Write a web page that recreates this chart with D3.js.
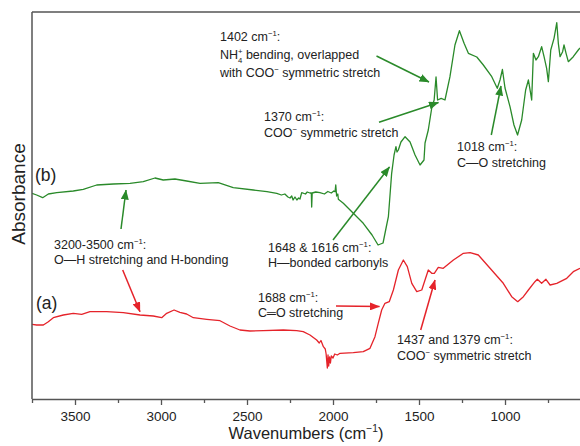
<!DOCTYPE html>
<html>
<head>
<meta charset="utf-8">
<script src="https://cdn.jsdelivr.net/npm/d3@7"></script>
<style>
  html, body { margin: 0; padding: 0; background: #fff; }
  svg { display: block; font-family: "Liberation Sans", Arial, sans-serif; }
</style>
</head>
<body>
<svg id="chart" width="580" height="446"></svg>
<script>
// FTIR spectra: wavenumber (cm^-1) and absorbance (a.u., offset per trace)
const waveB = [3750,3723,3688,3655,3606,3510,3452,3374,3277,3180,3103,3035,2987,2919,2851,2773,2667,2580,2463,2384,
  2327,2300,2280,2262,2250,2240,2232,2221,2210,2200,2192,2182,2160,2150,2134,2126,2124,2121,2100,2076,2050,2030,2010,1995,
  1988,1984,1979,1972,1969,1940,1882,1824,1773,1738,1709,1688,1678,1659,1645,1634,1628,1620,1605,1581,1552,1523,1494,1471,
  1465,1446,1426,1412,1401,1392,1371,1349,1320,1291,1265,1238,1213,1164,1126,1077,1045,1029,1015,1000,971,948,927,903,880,
  864,851,845,835,820,806,787,773,758,748,734,715,699,690,680,665,657,645,632,603,574,564];
const absB = [2.057,2.04,2.013,2.05,2.063,2.08,2.097,2.14,2.15,2.157,2.173,2.21,2.19,2.20,2.18,2.157,2.163,2.113,2.09,2.073,
  2.057,2.04,2.05,2.02,2.01,2.03,1.99,2.02,1.99,2.01,2.0,2.063,2.05,2.07,2.06,2.06,1.92,2.06,2.07,2.063,2.05,2.075,2.06,2.08,
  2.073,2.14,2.03,2.05,1.997,1.957,1.857,1.757,1.64,1.54,1.56,1.74,1.823,2.257,2.44,2.523,2.47,2.49,2.57,2.623,2.57,2.44,2.34,2.39,
  2.56,2.69,2.91,2.99,3.22,2.99,3.007,2.99,3.223,3.54,3.683,3.557,3.457,3.42,3.34,3.223,3.107,3.19,3.295,3.11,2.923,2.74,2.64,2.79,3.09,
  3.19,3.057,2.99,3.457,3.39,3.423,3.523,3.423,3.307,3.173,3.49,3.607,3.763,3.557,3.423,3.473,3.54,3.457,3.373,3.423,3.49,3.51];

const waveA = [3750,3723,3684,3655,3626,3568,3510,3461,3413,3316,3219,3122,3045,2996,2967,2924,2890,2851,2812,2734,2657,2599,
  2541,2483,2405,2289,2211,2173,2134,2095,2080,2070,2056,2045,2040,2037,2033,2029,2025,2020,2015,2010,2000,1990,1975,1959,1882,
  1824,1785,1756,1737,1717,1698,1673,1649,1620,1591,1568,1542,1513,1484,1465,1446,1426,1411,1388,1359,1300,1242,1203,1155,1087,
  1010,961,926,893,864,826,812,787,762,738,699,641,603,564];
const absA = [0.747,0.74,0.74,0.773,0.813,0.84,0.857,0.847,0.873,0.873,0.863,0.84,0.83,0.813,0.857,0.89,0.867,0.85,0.813,0.797,0.783,0.73,
  0.69,0.68,0.683,0.69,0.683,0.673,0.64,0.59,0.56,0.585,0.523,0.5,0.45,0.39,0.31,0.44,0.33,0.42,0.36,0.43,0.41,0.45,0.44,0.457,0.463,
  0.473,0.507,0.623,0.757,0.89,0.957,0.973,1.09,1.29,1.39,1.323,1.157,1.073,1.09,1.19,1.29,1.257,1.257,1.317,1.307,1.39,1.457,1.463,1.44,1.307,
  1.157,1.023,0.973,1.023,1.09,1.173,1.197,1.157,1.197,1.14,1.157,1.207,1.273,1.307];

const majorTicks = [3500, 3000, 2500, 2000, 1500, 1000];
const minorTicks = [3750, 3250, 2750, 2250, 1750, 1250, 750];

const GREEN = "#2a8a2a";
const RED = "#e5232a";
const TEXT = "#222";

const svg = d3.select("#chart");
const plotL = 32, plotR = 580, plotT = 12, plotB = 399;

const x = d3.scaleLinear().domain([3750, 564]).range([plotL, plotR]);
const y = d3.scaleLinear().domain([0, 3.87]).range([plotB, plotT]);

// arrowhead markers
const defs = svg.append("defs");
[["head-green", GREEN], ["head-red", RED]].forEach(([id, c]) => {
  defs.append("marker").attr("id", id)
    .attr("viewBox", "0 0 10 8").attr("refX", 9.5).attr("refY", 4)
    .attr("markerWidth", 10).attr("markerHeight", 8)
    .attr("markerUnits", "userSpaceOnUse").attr("orient", "auto")
    .append("path").attr("d", "M0,0 L10,4 L0,8 Z").attr("fill", c);
});
defs.append("clipPath").attr("id", "plot-clip")
  .append("rect").attr("x", plotL).attr("y", plotT).attr("width", plotR - plotL).attr("height", plotB - plotT);

// spectra
const line = d3.line().x(d => x(d[0])).y(d => y(d[1]));
const plot = svg.append("g").attr("clip-path", "url(#plot-clip)");
plot.append("path").datum(d3.zip(waveA, absA))
  .attr("d", line).attr("fill", "none").attr("stroke", RED).attr("stroke-width", 1.3).attr("stroke-linejoin", "round");
plot.append("path").datum(d3.zip(waveB, absB))
  .attr("d", line).attr("fill", "none").attr("stroke", GREEN).attr("stroke-width", 1.3).attr("stroke-linejoin", "round");

// frame
const frameColor = "#555";
svg.append("line").attr("x1", plotL).attr("x2", plotL).attr("y1", plotT).attr("y2", plotB)
  .attr("stroke", frameColor).attr("stroke-width", 1.5);
svg.append("line").attr("x1", plotL).attr("x2", plotR).attr("y1", plotT).attr("y2", plotT)
  .attr("stroke", frameColor).attr("stroke-width", 1.5);

// x axis
const axis = svg.append("g").attr("transform", `translate(0,${plotB})`)
  .call(d3.axisBottom(x).tickValues(majorTicks).tickFormat(d3.format("d"))
    .tickSize(6).tickSizeOuter(0));
axis.select(".domain").attr("stroke", frameColor).attr("stroke-width", 1.5);
axis.selectAll(".tick line").attr("stroke", frameColor).attr("stroke-width", 1.3);
axis.selectAll(".tick text").attr("font-size", 13.5).attr("fill", TEXT)
  .attr("font-family", "Liberation Sans, Arial, sans-serif")
  .attr("dy", null).attr("y", 22);
const minor = svg.append("g").attr("transform", `translate(0,${plotB})`)
  .call(d3.axisBottom(x).tickValues(minorTicks).tickSize(4).tickSizeOuter(0).tickFormat(""));
minor.select(".domain").remove();
minor.selectAll(".tick line").attr("stroke", frameColor).attr("stroke-width", 1.3);

// text with super/subscripts
function richText(xp, yp, segs, size, anchor) {
  const t = svg.append("text").attr("x", xp).attr("y", yp)
    .attr("font-size", size).attr("fill", TEXT).attr("text-anchor", anchor || "start");
  let shift = 0;
  segs.forEach(s => {
    const [str, kind, dx] = typeof s === "string" ? [s] : s;
    let target = 0, fsz = size;
    if (kind === "sup") { target = -size * 0.4; fsz = size * 0.62; }
    if (kind === "sub") { target = size * 0.3; fsz = size * 0.62; }
    const ts = t.append("tspan").text(str).attr("font-size", fsz).attr("dy", target - shift);
    if (dx) ts.attr("dx", dx);
    shift = target;
  });
  return t;
}

const fs = 12.5;
const cm = (n) => [n + " cm", ["\u22121", "sup"], ":"];

richText(220, 41, cm("1402"), fs);
richText(220, 59, ["NH", ["4", "sub"], ["+", "sup", -4.5], " bending, overlapped"], fs);
richText(220, 77, ["with COO", ["\u2212", "sup"], " symmetric stretch"], fs);

richText(264, 121, cm("1370"), fs);
richText(264, 137, ["COO", ["\u2212", "sup"], " symmetric stretch"], fs);

richText(457, 151, cm("1018"), fs);
richText(457, 167, ["C\u2014O stretching"], fs);

richText(54, 249, cm("3200-3500"), fs);
richText(54, 264, ["O\u2014H stretching and H-bonding"], fs);

richText(268, 252, cm("1648 & 1616"), fs);
richText(268, 267, ["H\u2014bonded carbonyls"], fs);

richText(258, 302, cm("1688"), fs);
richText(258, 317, ["C\u2550O stretching"], fs);

richText(397, 344, cm("1437 and 1379"), fs);
richText(397, 360, ["COO", ["\u2212", "sup"], " symmetric stretch"], fs);

richText(35, 181, ["(b)"], 17.5);
richText(36, 309, ["(a)"], 17.5);

// axis titles
richText(306, 438.5, ["Wavenumbers (cm", ["\u22121", "sup"], ")"], 16.5, "middle");
svg.append("text").attr("transform", "translate(25,194) rotate(-90)")
  .attr("text-anchor", "middle").attr("font-size", 19).attr("fill", TEXT).text("Absorbance");

// annotation arrows
const arrows = [
  [376.5, 56, 429, 82, "green"],
  [379, 122.3, 438.5, 102.5, "green"],
  [491.3, 135, 501, 86, "green"],
  [121, 229, 126, 190, "green"],
  [333, 240, 389.5, 167, "green"],
  [122.7, 270, 140, 311.7, "red"],
  [336, 306, 379.5, 306.5, "red"],
  [420.7, 330, 435, 280, "red"]
];
arrows.forEach(([x1, y1, x2, y2, c]) => {
  svg.append("line").attr("x1", x1).attr("y1", y1).attr("x2", x2).attr("y2", y2)
    .attr("stroke", c === "green" ? GREEN : RED).attr("stroke-width", 1.5)
    .attr("marker-end", `url(#head-${c})`);
});
</script>
</body>
</html>
